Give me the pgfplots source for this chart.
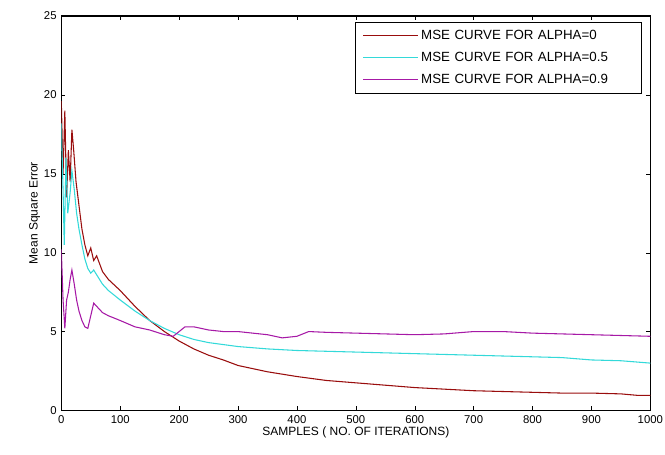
\documentclass[border=0pt]{standalone}
\usepackage{pgfplots}
\pgfplotsset{compat=1.18}
\usepackage{fontspec}
\setmainfont{Liberation Sans}
\definecolor{cred}{rgb}{0.6,0.05,0.05}
\definecolor{ccyan}{rgb}{0.2,0.85,0.85}
\definecolor{cmag}{rgb}{0.65,0.1,0.65}
\begin{document}
\begin{tikzpicture}
\begin{axis}[
  scale only axis,
  width=442pt, height=296pt,
  xmin=0, xmax=1000, ymin=0, ymax=25,
  xtick={0,100,...,1000}, ytick={0,5,...,25},
  tick align=inside,
  tick pos=both,
  major tick length=3pt,
  axis line style={black, line width=0.8pt},
  tick style={black},
  ticklabel style={font=\fontsize{8.5}{10}\selectfont},
  /pgf/number format/assume math mode=true,
  /pgf/number format/1000 sep={},
  scaled x ticks=false,
  xlabel={SAMPLES ( NO. OF ITERATIONS)},
  ylabel={Mean Square Error},
  label style={font=\fontsize{9}{11}\selectfont},
  xlabel style={yshift=4pt},
  ylabel style={yshift=-4pt},
  legend style={at={(rel axis cs:0.985,0.985)}, anchor=north east,
    font=\fontsize{10}{12}\selectfont, draw=black, line width=0.6pt,
    row sep=4pt, inner xsep=5pt, inner ysep=4pt,
    nodes={text width=158pt}},
  legend cell align=left,
  legend image post style={line width=0.8pt},
  legend image code/.code={\draw[#1] (0cm,0cm) -- (1.45cm,0cm);},
  every axis plot/.append style={line width=0.8pt},
]
\addplot[cred] coordinates {
(0,19.6) (3,15) (6,19) (9,13.5) (12,16.5) (15,14.5) (18,17.8) (21,16.5) (25,14.5)
(30,13) (35,11.5) (40,10.5) (45,9.8) (50,10.3) (55,9.5) (60,9.8) (65,9.3) (70,8.8)
(80,8.3) (100,7.6) (125,6.6) (150,5.7) (175,5.0) (200,4.4) (225,3.9) (250,3.5)
(275,3.2) (300,2.85) (350,2.45) (400,2.15) (450,1.9) (500,1.75) (550,1.6) (600,1.45)
(650,1.35) (700,1.25) (750,1.2) (800,1.15) (850,1.1) (900,1.1) (950,1.05) (980,0.95) (1000,0.95)
};
\addlegendentry{MSE CURVE FOR ALPHA=0}
\addplot[ccyan] coordinates {
(0,18.2) (3,14) (5,10.5) (8,16) (11,12.5) (15,13.8) (18,15.2) (22,14) (26,12.5)
(30,11.5) (35,10.5) (40,9.6) (45,9.0) (50,8.7) (55,8.9) (60,8.6) (70,8.0) (80,7.6)
(100,7.0) (125,6.3) (150,5.7) (175,5.2) (200,4.8) (225,4.5) (250,4.3) (300,4.05)
(350,3.9) (400,3.8) (450,3.75) (500,3.7) (600,3.6) (700,3.5) (800,3.4) (850,3.35)
(900,3.2) (950,3.15) (1000,3.0)
};
\addlegendentry{MSE CURVE FOR ALPHA=0.5}
\addplot[cmag] coordinates {
(0,10.2) (3,7) (6,5.2) (9,7) (12,7.5) (15,8.3) (18,8.9) (22,8) (26,7) (30,6.3)
(35,5.7) (40,5.3) (45,5.2) (50,6) (55,6.8) (60,6.6) (65,6.4) (70,6.2) (80,6.0)
(100,5.7) (125,5.3) (150,5.1) (175,4.8) (190,4.7) (200,5.0) (210,5.3) (225,5.3)
(250,5.1) (275,5.0) (300,5.0) (350,4.8) (375,4.6) (400,4.7) (420,5.0) (450,4.95)
(500,4.9) (550,4.85) (600,4.8) (650,4.85) (700,5.0) (750,5.0) (800,4.9) (850,4.85)
(900,4.8) (950,4.75) (1000,4.7)
};
\addlegendentry{MSE CURVE FOR ALPHA=0.9}
\end{axis}
\pgfresetboundingbox
\path ([shift={(-46pt,-33pt)}]current axis.south west) rectangle ([shift={(11pt,12pt)}]current axis.north east);
\end{tikzpicture}
\end{document}
